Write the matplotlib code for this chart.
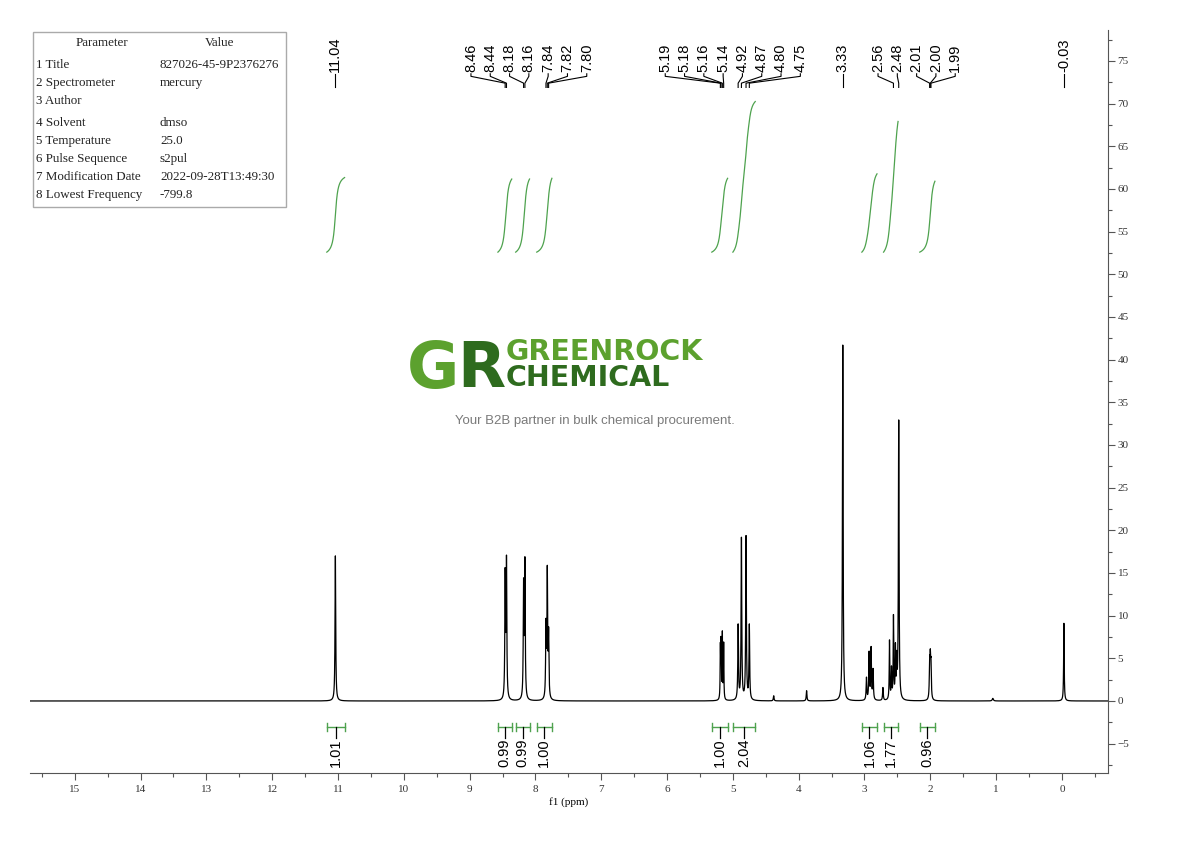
import numpy as np
import matplotlib
matplotlib.use('Agg')
import matplotlib.pyplot as plt
from matplotlib.ticker import MultipleLocator
from matplotlib.patches import Rectangle

# 1H NMR peak list (ppm, height, half width)
peak_ppm = [11.04, 8.46, 8.44, 8.18, 8.16, 7.84, 7.82, 7.80,
            5.19, 5.18, 5.16, 5.14, 4.92, 4.87, 4.80, 4.75, 4.38, 3.88,
            3.33, 2.97, 2.93, 2.90, 2.87, 2.72, 2.62, 2.59, 2.56, 2.53,
            2.51, 2.48, 2.01, 2.00, 1.99, 1.05, -0.03]
peak_height = [17.0, 14.3, 15.9, 13.1, 15.8, 8.3, 14.6, 7.3,
               5.8, 6.4, 7.6, 6.5, 8.7, 18.9, 19.1, 8.7, 0.6, 1.2,
               41.7, 2.6, 5.5, 6.0, 3.5, 1.5, 6.9, 3.5, 9.6, 5.8,
               4.2, 32.7, 3.9, 4.1, 3.7, 0.3, 9.1]
peak_width = [0.006, 0.006, 0.006, 0.006, 0.006, 0.006, 0.006, 0.006,
              0.004, 0.004, 0.004, 0.004, 0.006, 0.006, 0.006, 0.006, 0.006, 0.006,
              0.006, 0.006, 0.006, 0.006, 0.006, 0.006, 0.005, 0.005, 0.005, 0.005,
              0.005, 0.006, 0.006, 0.006, 0.006, 0.01, 0.005]

# labelled peaks
label_ppm = [11.04, 8.46, 8.44, 8.18, 8.16, 7.84, 7.82, 7.80,
             5.19, 5.18, 5.16, 5.14, 4.92, 4.87, 4.80, 4.75,
             3.33, 2.56, 2.48, 2.01, 2.00, 1.99, -0.03]

# integration regions
int_hi = [11.17, 8.57, 8.30, 7.98, 5.32, 5.00, 3.04, 2.71, 2.16]
int_lo = [10.90, 8.36, 8.09, 7.75, 5.08, 4.66, 2.81, 2.49, 1.93]
int_val = [1.01, 0.99, 0.99, 1.00, 1.00, 2.04, 1.06, 1.77, 0.96]

params = ['1 Title', '2 Spectrometer', '3 Author', '4 Solvent', '5 Temperature',
          '6 Pulse Sequence', '7 Modification Date', '8 Lowest Frequency']
values = ['827026-45-9P2376276', 'mercury', '', 'dmso', '25.0', 's2pul',
          '2022-09-28T13:49:30', '-799.8']

W, H = 1190, 841
fig = plt.figure(figsize=(W/100, H/100), dpi=100)
ax = fig.add_axes([30/W, 1-773/H, 1078/W, 743/H])

def fx(px):
    return px/W

def fy(py):
    return 1-py/H

# spectrum
x = np.union1d(np.linspace(15.7, -0.72, 16500), peak_ppm)[::-1]
y = np.zeros_like(x)
for p, h, w in zip(peak_ppm, peak_height, peak_width):
    y += h*w**2/((x-p)**2+w**2)
ax.plot(x, y, color='black', lw=0.9)

xmin, xmax = 15.68, -0.70
ax.set_xlim(xmin, xmax)
ax.set_ylim(-8.44, 78.63)
ppm_per_px = (xmin-xmax)/1078.

# integral curves and brackets
green = '#4ea24e'
base, unit, bw = 52.6, 8.65, 0.03
for hi, lo, v in zip(int_hi, int_lo, int_val):
    xs = np.linspace(hi, lo, 300)
    cum = np.zeros_like(xs)
    for p, h, w in zip(peak_ppm, peak_height, peak_width):
        if lo <= p <= hi:
            cum += h*w*(0.5+np.arctan((p-xs)/bw)/np.pi)
    cum = (cum-cum[0])/(cum[-1]-cum[0])
    ax.plot(xs, base+v*unit*cum, color=green, lw=0.9)
    yb = -3.05
    ax.plot([hi, lo], [yb, yb], color=green, lw=1.0)
    ax.plot([hi, hi], [yb-0.5, yb+0.5], color=green, lw=1.0)
    ax.plot([lo, lo], [yb-0.5, yb+0.5], color=green, lw=1.0)
    mid = (hi+lo)/2
    ax.plot([mid, mid], [yb, yb-1.3], color='black', lw=0.9)
    ax.text(mid, yb-1.35, f'{v:.2f}', rotation=90, ha='center', va='top',
            fontsize=10.5, family='Liberation Sans')

# peak labels spread so they do not overlap
gap = 19.3*ppm_per_px
pos = list(label_ppm)
for _ in range(200):
    moved = False
    for i in range(len(pos)-1):
        d = pos[i]-pos[i+1]
        if d < gap-1e-6:
            s = (gap-d)/2
            pos[i] += s
            pos[i+1] -= s
            moved = True
    if not moved:
        break

ytxt, y1, y2, y3 = 73.5, 73.2, 72.4, 71.9
for p, lp in zip(label_ppm, pos):
    ax.plot([lp, lp, p, p], [ytxt, y1, y2, y3], color='black', lw=0.8)
    ax.text(lp, ytxt+0.15, f'{p:.2f}', rotation=90, ha='center', va='bottom',
            fontsize=10.5, family='Liberation Sans')

# axes styling
for s in ['left', 'top']:
    ax.spines[s].set_visible(False)
for s in ['right', 'bottom']:
    ax.spines[s].set_color('#555555')
ax.yaxis.tick_right()
ax.xaxis.set_major_locator(MultipleLocator(1))
ax.xaxis.set_minor_locator(MultipleLocator(0.5))
ax.yaxis.set_major_locator(MultipleLocator(5))
ax.yaxis.set_minor_locator(MultipleLocator(2.5))
ax.tick_params(which='major', direction='out', length=5, width=0.8,
               colors='#555555', labelsize=8, labelcolor='#333333')
ax.tick_params(which='minor', direction='out', length=3, width=0.8, colors='#555555')
ax.tick_params(axis='y', pad=2)
for t in ax.get_xticklabels()+ax.get_yticklabels():
    t.set_family('Liberation Serif')
ax.set_xticks(np.arange(0, 16))
ax.set_xlim(xmin, xmax)
ax.set_xlabel('f1 (ppm)', family='Liberation Serif', fontsize=8, labelpad=2)

# parameter table
fig.patches.append(Rectangle((fx(33), fy(207)), fx(286)-fx(33), fy(32)-fy(207),
                             transform=fig.transFigure, fill=False,
                             edgecolor='#aaaaaa', lw=1.0))
tkw = dict(family='Liberation Serif', fontsize=9.4, color='#222222', va='center')
fig.text(fx(102), fy(43), 'Parameter', ha='center', **tkw)
fig.text(fx(220), fy(43), 'Value', ha='center', **tkw)
row_y = [65, 83, 101, 123, 141, 159, 177, 195]
for ry, pa, va in zip(row_y, params, values):
    fig.text(fx(36), fy(ry), pa, ha='left', **tkw)
    fig.text(fx(160), fy(ry), va, ha='left', **tkw)

# watermark logo
fig.text(fx(433), fy(370), 'G', color='#5ca12e', fontsize=46, fontweight='bold',
         family='DejaVu Sans', ha='center', va='center')
fig.text(fx(481), fy(370), 'R', color='#2e6b1e', fontsize=45, fontweight='bold',
         family='DejaVu Sans', ha='center', va='center')
fig.text(fx(506), fy(352), 'GREENROCK', color='#5ca12e', fontsize=20.5,
         fontweight='bold', family='DejaVu Sans', ha='left', va='center')
fig.text(fx(506), fy(378), 'CHEMICAL', color='#2e6b1e', fontsize=20.5,
         fontweight='bold', family='DejaVu Sans', ha='left', va='center')
fig.text(fx(595), fy(421), 'Your B2B partner in bulk chemical procurement.',
         color='#7a7a7a', fontsize=9.5, family='Liberation Sans',
         ha='center', va='center')

fig.savefig('out.png', dpi=100)
